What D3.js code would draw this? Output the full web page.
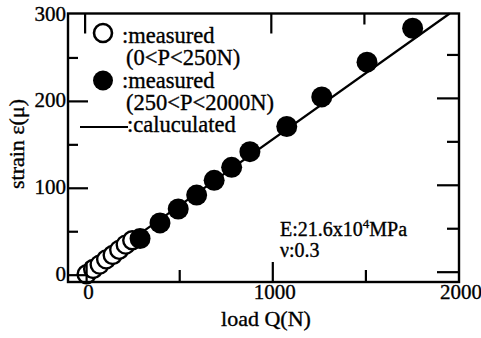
<!DOCTYPE html>
<html>
<head>
<meta charset="utf-8">
<script src="https://cdn.jsdelivr.net/npm/d3@7"></script>
<style>
  html, body { margin: 0; padding: 0; background: #fff; }
  svg { display: block; }
  text { font-family: "Liberation Serif", "Times New Roman", serif; fill: #000; stroke: #000; stroke-width: 0.35px; }
</style>
</head>
<body>
<svg id="chart" width="481" height="338"></svg>
<script>
// Load (N) and strain (µ) readings
const openLoad   = [0, 35, 70, 105, 140, 175, 210, 245];
const openStrain = [0, 6, 11, 17, 22, 28, 34, 39];
const fullLoad   = [287, 394, 492, 591, 685, 779, 877, 1075, 1263, 1506, 1751];
const fullStrain = [41, 59, 75, 91, 108, 123, 141, 170, 204, 244, 283];
// Calculated strain line end points
const calcLoad   = [0, 1950];
const calcStrain = [3, 300];

const xTickLabels = [0, 1000, 2000];
const yTickLabels = [0, 100, 200, 300];

const svg = d3.select("#chart");
const plotL = 68, plotR = 459, plotT = 13.5, plotB = 282;

const x = d3.scaleLinear().domain([-100, 2000]).range([plotL, plotR]);
const y = d3.scaleLinear().domain([-9, 300]).range([plotB, plotT]);

// Calculated line
const line = d3.line().x(d => x(d[0])).y(d => y(d[1]));
svg.append("path")
  .datum(d3.zip(calcLoad, calcStrain))
  .attr("d", line)
  .attr("fill", "none").attr("stroke", "#000").attr("stroke-width", 2.2);

// Measured, low load (open)
svg.append("g").selectAll("circle")
  .data(d3.zip(openLoad, openStrain)).join("circle")
  .attr("cx", d => x(d[0])).attr("cy", d => y(d[1])).attr("r", 9)
  .attr("fill", "#fff").attr("stroke", "#000").attr("stroke-width", 2.4);

// Measured, high load (filled)
svg.append("g").selectAll("circle")
  .data(d3.zip(fullLoad, fullStrain)).join("circle")
  .attr("cx", d => x(d[0])).attr("cy", d => y(d[1])).attr("r", 10.5)
  .attr("fill", "#000");

// Frame
svg.append("rect")
  .attr("x", plotL).attr("y", plotT).attr("width", plotR - plotL).attr("height", plotB - plotT)
  .attr("fill", "none").attr("stroke", "#000").attr("stroke-width", 2.4);

// Inward ticks
const tk = svg.append("g").attr("stroke", "#000").attr("stroke-width", 2.2);
[[0, 20], [500, 12], [1000, 20], [1500, 12]].forEach(([v, l]) =>
  tk.append("line").attr("x1", x(v)).attr("x2", x(v)).attr("y1", plotB).attr("y2", plotB - l));
[[0, 20], [1000, 20], [1500, 11]].forEach(([v, l]) =>
  tk.append("line").attr("x1", x(v) - 1.5).attr("x2", x(v) - 1.5).attr("y1", plotT).attr("y2", plotT + l));
[[0, 20], [50, 10], [100, 20], [150, 10], [200, 20], [250, 10]].forEach(([v, l]) =>
  tk.append("line").attr("x1", plotL).attr("x2", plotL + l).attr("y1", y(v) + 1).attr("y2", y(v) + 1));
[[0, 22], [50, 12], [100, 22], [150, 12], [200, 22], [250, 12]].forEach(([v, l]) =>
  tk.append("line").attr("x1", plotR).attr("x2", plotR - l).attr("y1", y(v) - 2).attr("y2", y(v) - 2));

// Tick labels
svg.append("g").selectAll("text").data(xTickLabels).join("text")
  .attr("x", d => x(d) + 2).attr("y", 299)
  .attr("text-anchor", "middle").attr("font-size", 21).text(d => d);
svg.append("g").selectAll("text").data(yTickLabels).join("text")
  .attr("x", 66).attr("y", d => y(d) + 7)
  .attr("text-anchor", "end").attr("font-size", 21).text(d => d);

// Axis titles
svg.append("text").attr("x", 266).attr("y", 326)
  .attr("text-anchor", "middle").attr("font-size", 22).text("load Q(N)");
svg.append("text").attr("transform", "translate(24,144) rotate(-90)")
  .attr("text-anchor", "middle").attr("font-size", 22).text("strain ε(μ)");

// Legend
const lg = svg.append("g");
lg.append("circle").attr("cx", 103).attr("cy", 33).attr("r", 9)
  .attr("fill", "#fff").attr("stroke", "#000").attr("stroke-width", 2.6);
lg.append("text").attr("x", 122).attr("y", 43).attr("font-size", 22.5).text(":measured");
lg.append("text").attr("x", 126).attr("y", 65).attr("font-size", 22.5).text("(0<P<250N)");
lg.append("circle").attr("cx", 103).attr("cy", 80.5).attr("r", 10).attr("fill", "#000");
lg.append("text").attr("x", 122).attr("y", 88).attr("font-size", 22.5).text(":measured");
lg.append("text").attr("x", 126).attr("y", 110).attr("font-size", 22.5).text("(250<P<2000N)");
lg.append("line").attr("x1", 80).attr("x2", 128).attr("y1", 127).attr("y2", 127)
  .attr("stroke", "#000").attr("stroke-width", 2.2);
lg.append("text").attr("x", 127).attr("y", 132).attr("font-size", 22.5).text(":caluculated");

// Material constants
const note = svg.append("g");
const eText = note.append("text").attr("x", 280).attr("y", 236).attr("font-size", 20);
eText.append("tspan").text("E:21.6x10");
eText.append("tspan").attr("dy", -8).attr("font-size", 13).text("4");
eText.append("tspan").attr("dy", 8).text("MPa");
note.append("text").attr("x", 280).attr("y", 257).attr("font-size", 20).text("ν:0.3");
</script>
</body>
</html>
